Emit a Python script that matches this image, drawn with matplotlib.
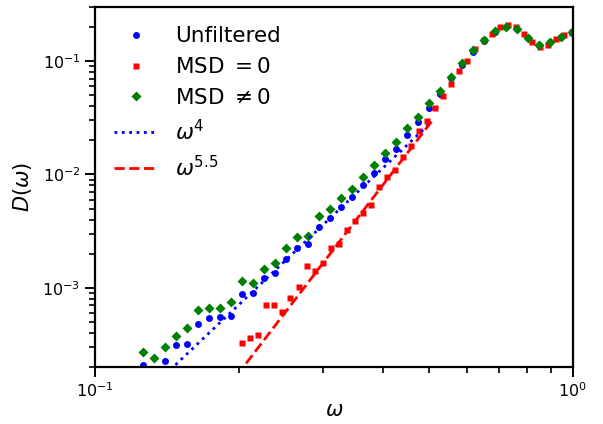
import matplotlib
matplotlib.use("Agg")
import matplotlib.pyplot as plt
from matplotlib.ticker import NullFormatter
import numpy as np

# frequency grid for unfiltered / MSD != 0 data
omega_bg = [0.1262, 0.1331, 0.1403, 0.1479, 0.1560, 0.1645, 0.1734, 0.1829, 0.1928, 0.2033,
            0.2144, 0.2260, 0.2383, 0.2513, 0.2650, 0.2794, 0.2946, 0.3106, 0.3275, 0.3453,
            0.3641, 0.3839, 0.4048, 0.4268, 0.4500, 0.4745, 0.5003, 0.5275, 0.5562, 0.5865,
            0.6184, 0.6520, 0.6875, 0.7249, 0.7643, 0.8059, 0.8498, 0.8960, 0.9448, 0.9962]

D_unfiltered = [2.07e-4, 1.90e-4, 2.25e-4, 3.13e-4, 3.22e-4, 4.77e-4, 5.36e-4, 5.47e-4, 5.69e-4, 8.79e-4,
                8.91e-4, 1.216e-3, 1.337e-3, 1.787e-3, 2.23e-3, 2.43e-3, 3.44e-3, 4.09e-3, 5.12e-3, 6.27e-3,
                8.0e-3, 1.033e-2, 1.355e-2, 1.663e-2, 2.21e-2, 2.91e-2, 3.83e-2, 5.12e-2, 7.03e-2, 9.22e-2,
                0.121, 0.150, 0.182, 0.200, 0.192, 0.160, 0.139, 0.147, 0.163, 0.178]

D_msd_nonzero = [2.72e-4, 2.38e-4, 3.01e-4, 3.74e-4, 4.43e-4, 6.31e-4, 6.57e-4, 6.65e-4, 7.46e-4, 1.143e-3,
                 1.099e-3, 1.479e-3, 1.667e-3, 2.24e-3, 2.78e-3, 2.87e-3, 4.26e-3, 4.94e-3, 6.14e-3, 7.41e-3,
                 9.52e-3, 1.208e-2, 1.552e-2, 1.928e-2, 2.55e-2, 3.22e-2, 4.24e-2, 5.47e-2, 7.27e-2, 9.54e-2,
                 0.125, 0.153, 0.184, 0.201, 0.193, 0.161, 0.140, 0.148, 0.164, 0.179]

# frequency grid for MSD = 0 data
omega_r = [0.2033, 0.2113, 0.2197, 0.2284, 0.2374, 0.2468, 0.2565, 0.2667, 0.2772, 0.2881,
           0.2995, 0.3114, 0.3237, 0.3365, 0.3498, 0.3636, 0.3780, 0.3929, 0.4084, 0.4246,
           0.4413, 0.4588, 0.4769, 0.4958, 0.5153, 0.5357, 0.5569, 0.5789, 0.6018, 0.6255,
           0.6503, 0.6760, 0.7027, 0.7305, 0.7593, 0.7893, 0.8205, 0.8529, 0.8866, 0.9217,
           0.9581, 0.9960]

D_msd_zero = [3.29e-4, 3.59e-4, 3.82e-4, 6.98e-4, 7.06e-4, 6.12e-4, 8.2e-4, 1.012e-3, 1.552e-3, 1.416e-3,
              1.671e-3, 2.23e-3, 2.42e-3, 3.22e-3, 3.89e-3, 4.53e-3, 5.36e-3, 7.67e-3, 9.52e-3, 1.084e-2,
              1.413e-2, 1.766e-2, 2.43e-2, 2.97e-2, 3.83e-2, 4.91e-2, 6.27e-2, 8.2e-2, 0.100, 0.127,
              0.153, 0.175, 0.198, 0.208, 0.201, 0.175, 0.146, 0.132, 0.138, 0.156,
              0.169, 0.179]

# power-law guides
fit4_exp, fit4_amp, fit4_range = 4.0, 0.443, (0.14, 0.506)
fit55_exp, fit55_amp, fit55_range = 5.5, 1.24, (0.19, 0.51)

fig = plt.figure(figsize=(6.03, 4.24), dpi=100)
ax = fig.add_axes([0.1575, 0.1344, 0.7925, 0.8491])

ax.plot(omega_bg, D_unfiltered, 'o', color='blue', ms=5, mec='none', label='Unfiltered')
ax.plot(omega_r, D_msd_zero, 's', color='red', ms=5, mec='none', label=r'MSD $=0$')
ax.plot(omega_bg, D_msd_nonzero, 'D', color='green', ms=5, mec='none', label=r'MSD $\neq 0$')

w4 = np.geomspace(*fit4_range, 100)
ax.plot(w4, fit4_amp * w4 ** fit4_exp, ':', color='blue', lw=2, label=r'$\omega^4$')
w55 = np.geomspace(*fit55_range, 100)
ax.plot(w55, fit55_amp * w55 ** fit55_exp, '--', color='red', lw=2, label=r'$\omega^{5.5}$')

ax.set_xscale('log')
ax.set_yscale('log')
ax.set_xlim(0.1, 1.0)
ax.set_ylim(2e-4, 3e-1)
ax.xaxis.set_minor_formatter(NullFormatter())
ax.yaxis.set_minor_formatter(NullFormatter())
ax.set_xlabel(r'$\omega$', fontsize=15, labelpad=0)
ax.set_ylabel(r'$D(\omega)$', fontsize=15, labelpad=6)

for s in ax.spines.values():
    s.set_linewidth(1.6)
ax.tick_params(which='major', length=7, width=1.4, labelsize=11.5)
ax.tick_params(which='minor', length=4, width=1.2)

ax.legend(loc='upper left', frameon=False, fontsize=15.5, numpoints=1)

fig.savefig('out.png', dpi=100)
